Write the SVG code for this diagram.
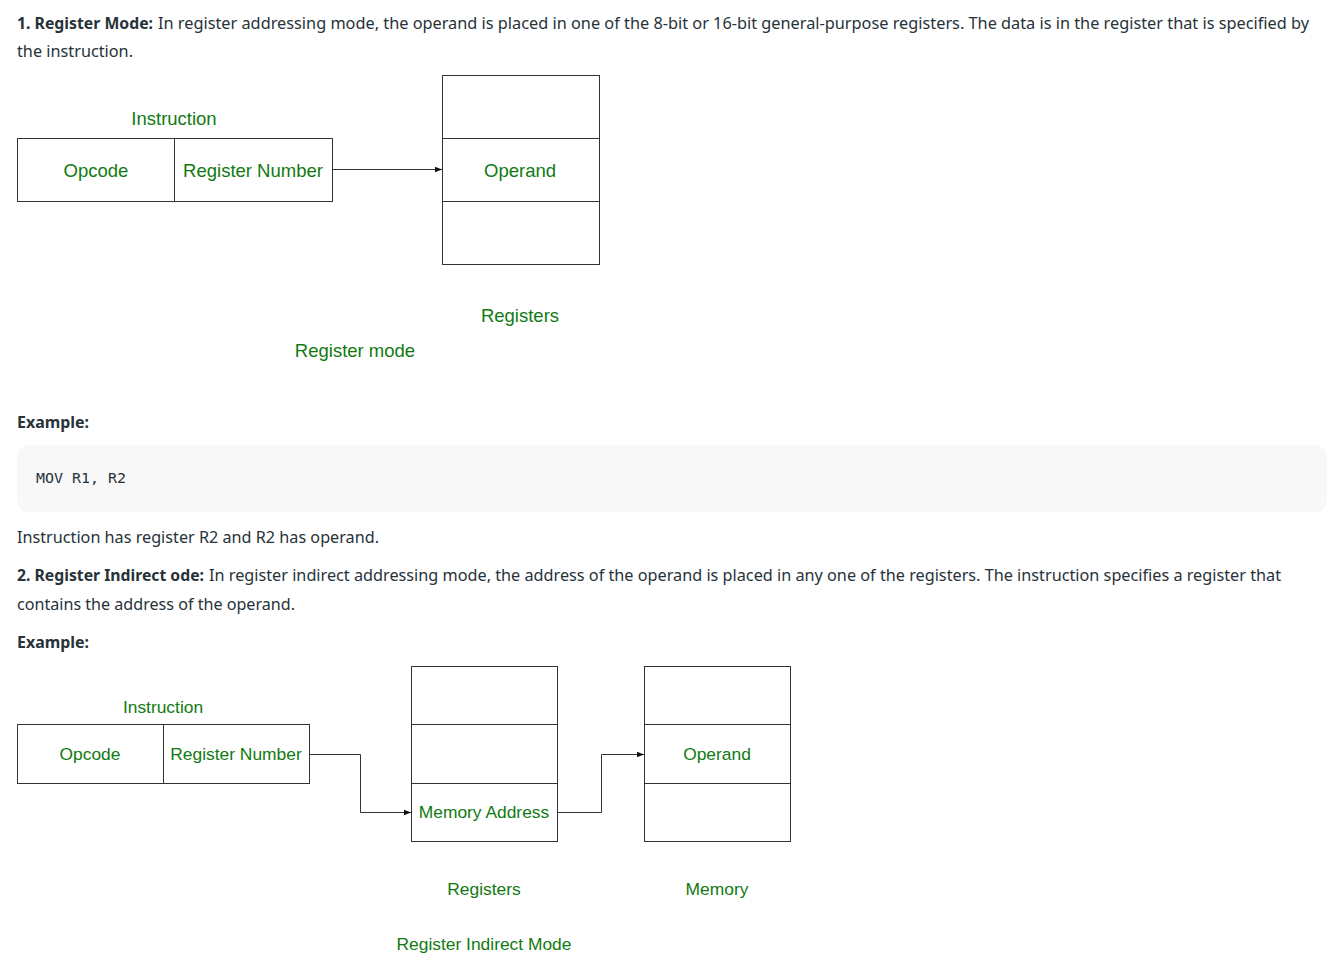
<svg xmlns="http://www.w3.org/2000/svg" width="1340" height="977" viewBox="0 0 1340 977">
<style>
.body{font-family:"Noto Sans","Liberation Sans",sans-serif;font-size:16px;fill:#273239}
.b{font-weight:bold}
.code{font-family:"DejaVu Sans Mono","Liberation Mono",monospace;font-size:14px;fill:#273239}
.g1{font-family:"Liberation Sans",Arial,sans-serif;font-size:18.5px;fill:#117a11;text-anchor:middle}
.g2{font-family:"Liberation Sans",Arial,sans-serif;font-size:17.4px;fill:#117a11;text-anchor:middle}
.box{fill:#fff;stroke:#333;stroke-width:1}
.ln{fill:none;stroke:#333;stroke-width:1}
</style>
<defs>
<marker id="arr" viewBox="0 0 10 10" refX="10" refY="5" markerWidth="7" markerHeight="7" markerUnits="userSpaceOnUse" orient="auto">
<path d="M0,1 L10,5 L0,9 z" fill="#111"/>
</marker>
</defs>
<rect width="1340" height="977" fill="#fff"/>

<g id="text">
<text class="body b" x="17" y="29" textLength="136" lengthAdjust="spacingAndGlyphs">1. Register Mode:</text>
<text class="body" x="158" y="29" textLength="1151" lengthAdjust="spacingAndGlyphs">In register addressing mode, the operand is placed in one of the 8-bit or 16-bit general-purpose registers. The data is in the register that is specified by</text>
<text class="body" x="17" y="57" textLength="116" lengthAdjust="spacingAndGlyphs">the instruction.</text>
<text class="body b" x="17" y="428" textLength="72" lengthAdjust="spacingAndGlyphs">Example:</text>
<rect x="17" y="445" width="1310" height="67" rx="12" fill="#f8f8f8"/>
<text class="code" x="36" y="483" textLength="90" lengthAdjust="spacingAndGlyphs">MOV R1, R2</text>
<text class="body" x="17" y="543" textLength="362" lengthAdjust="spacingAndGlyphs">Instruction has register R2 and R2 has operand.</text>
<text class="body b" x="17" y="581" textLength="187" lengthAdjust="spacingAndGlyphs">2. Register Indirect ode:</text>
<text class="body" x="209" y="581" textLength="1072" lengthAdjust="spacingAndGlyphs">In register indirect addressing mode, the address of the operand is placed in any one of the registers. The instruction specifies a register that</text>
<text class="body" x="17" y="610" textLength="278" lengthAdjust="spacingAndGlyphs">contains the address of the operand.</text>
<text class="body b" x="17" y="648" textLength="72" lengthAdjust="spacingAndGlyphs">Example:</text>
</g>

<g id="d1-instruction">
<text class="g1" x="174" y="125">Instruction</text>
<rect class="box" x="17.5" y="138.5" width="315" height="63"/>
<line class="ln" x1="174.5" y1="138.5" x2="174.5" y2="201.5"/>
<text class="g1" x="96" y="177">Opcode</text>
<text class="g1" x="253" y="177">Register Number</text>
</g>
<g id="d1-registers">
<rect class="box" x="442.5" y="75.5" width="157" height="189"/>
<line class="ln" x1="442.5" y1="138.5" x2="599.5" y2="138.5"/>
<line class="ln" x1="442.5" y1="201.5" x2="599.5" y2="201.5"/>
<text class="g1" x="520" y="177">Operand</text>
<text class="g1" x="520" y="322">Registers</text>
</g>
<g id="d1-caption">
<text class="g1" x="355" y="357">Register mode</text>
</g>

<g id="d2-instruction">
<text class="g2" x="163" y="713">Instruction</text>
<rect class="box" x="17.5" y="724.5" width="292" height="59"/>
<line class="ln" x1="163.5" y1="724.5" x2="163.5" y2="783.5"/>
<text class="g2" x="90" y="760">Opcode</text>
<text class="g2" x="236" y="760">Register Number</text>
</g>
<g id="d2-registers">
<rect class="box" x="411.5" y="666.5" width="146" height="175"/>
<line class="ln" x1="411.5" y1="724.5" x2="557.5" y2="724.5"/>
<line class="ln" x1="411.5" y1="783.5" x2="557.5" y2="783.5"/>
<text class="g2" x="484" y="818">Memory Address</text>
<text class="g2" x="484" y="895">Registers</text>
</g>
<g id="d2-memory">
<rect class="box" x="644.5" y="666.5" width="146" height="175"/>
<line class="ln" x1="644.5" y1="724.5" x2="790.5" y2="724.5"/>
<line class="ln" x1="644.5" y1="783.5" x2="790.5" y2="783.5"/>
<text class="g2" x="717" y="760">Operand</text>
<text class="g2" x="717" y="895">Memory</text>
</g>
<g id="d2-caption">
<text class="g2" x="484" y="950">Register Indirect Mode</text>
</g>

<g id="connectors">
<path class="ln" d="M332.5,169.5 H442" marker-end="url(#arr)"/>
<path class="ln" d="M309.5,754.5 H360.5 V812.5 H411" marker-end="url(#arr)"/>
<path class="ln" d="M557.5,812.5 H601.5 V754.5 H644" marker-end="url(#arr)"/>
</g>
</svg>
